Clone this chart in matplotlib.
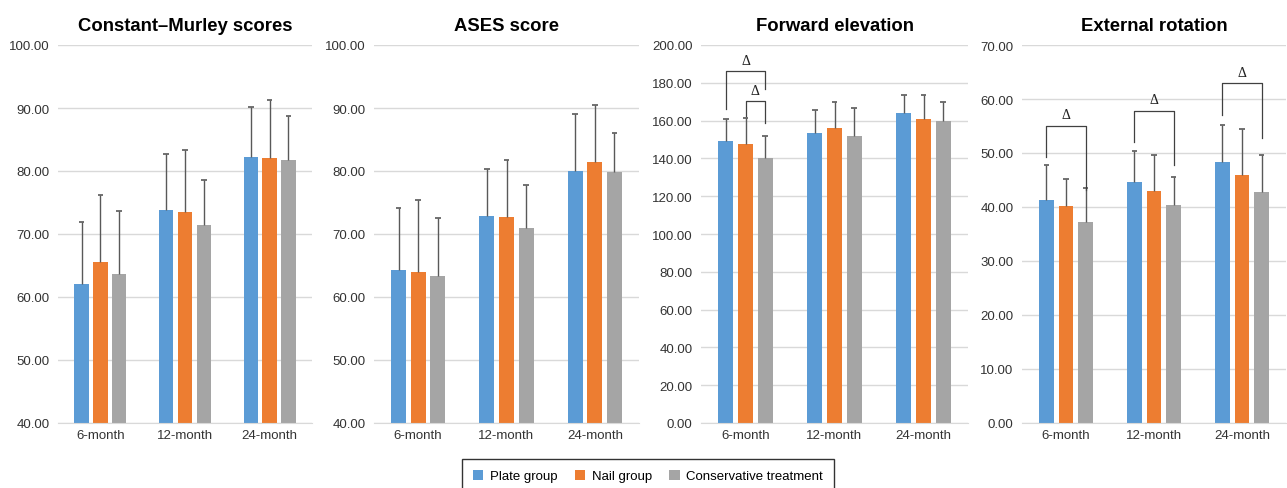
import matplotlib
matplotlib.use("Agg")
import matplotlib.pyplot as plt
import numpy as np

plt.rcParams['font.family'] = ['Liberation Sans', 'DejaVu Sans']

categories = ["6-month", "12-month", "24-month"]
series_names = ["Plate group", "Nail group", "Conservative treatment"]
colors = ["#5B9BD5", "#ED7D31", "#A5A5A5"]

titles = ["Constant\u2013Murley scores", "ASES score", "Forward elevation", "External rotation"]

# means per panel: [plate, nail, conservative] x categories
cm_mean = [[62.1, 73.8, 82.2], [65.5, 73.5, 82.0], [63.6, 71.5, 81.8]]
cm_top = [[71.9, 82.7, 90.1], [76.2, 83.4, 91.2], [73.7, 78.5, 88.7]]
ases_mean = [[64.3, 72.8, 80.0], [64.0, 72.7, 81.5], [63.4, 71.0, 79.9]]
ases_top = [[74.1, 80.3, 89.1], [75.4, 81.7, 90.4], [72.6, 77.8, 86.0]]
fe_mean = [[149.0, 153.6, 164.2], [147.7, 155.9, 160.8], [140.3, 152.0, 159.8]]
fe_top = [[160.6, 165.8, 173.5], [161.5, 169.6, 173.5], [151.6, 166.8, 170.0]]
er_mean = [[41.3, 44.7, 48.3], [40.2, 42.9, 45.9], [37.3, 40.4, 42.7]]
er_top = [[47.8, 50.4, 55.2], [45.2, 49.7, 54.4], [43.5, 45.6, 49.7]]

means = [cm_mean, ases_mean, fe_mean, er_mean]
tops = [cm_top, ases_top, fe_top, er_top]
ylims = [(40, 100), (40, 100), (0, 200), (0, 70)]
ysteps = [10, 10, 20, 10]

# significance brackets: (panel, category, series_a, series_b, top_y, leg_a_y, leg_b_y)
brackets = [
    (2, 0, 0, 2, 186.1, 166.1, 176.7),
    (2, 0, 1, 2, 170.2, 162.6, 158.7),
    (3, 0, 0, 2, 55.05, 49.3, 43.2),
    (3, 1, 0, 2, 57.8, 52.1, 47.8),
    (3, 2, 0, 2, 62.9, 57.1, 52.7),
]

W, H = 1287, 489
fig = plt.figure(figsize=(W / 100, H / 100), dpi=100)
axes_px = [(58, 312), (374, 639), (701, 968), (1022, 1286)]
top_px, bot_px = 46, 424

bw = 0.17
step = 0.222
capw = 0.065
x = np.arange(len(categories))
axes = []
for i, (l, r) in enumerate(axes_px):
    ax = fig.add_axes([l / W, (H - bot_px) / H, (r - l) / W, (bot_px - top_px) / H])
    axes.append(ax)
    lo, hi = ylims[i]
    for s in range(3):
        m = np.array(means[i][s])
        t = np.array(tops[i][s])
        xs = x + (s - 1) * step
        ax.bar(xs, m - lo, bottom=lo, width=bw, color=colors[s],
               label=series_names[s], zorder=2)
        ax.vlines(xs, m, t, color='#595959', linewidth=1.0, zorder=3)
        ax.hlines(t, xs - capw / 2, xs + capw / 2, color='#595959',
                  linewidth=1.2, zorder=3)
    ax.set_xlim(-0.5, 2.5)
    ax.set_ylim(lo, hi)
    ax.set_yticks(np.arange(lo, hi + 0.1, ysteps[i]))
    ax.yaxis.set_major_formatter(matplotlib.ticker.FormatStrFormatter('%.2f'))
    ax.set_xticks(x)
    ax.set_xticklabels(categories)
    ax.tick_params(axis='both', length=0, labelsize=9.5, colors='#333333', pad=6)
    ax.tick_params(axis='x', pad=4)
    ax.grid(axis='y', color='#D9D9D9', linewidth=1.0, zorder=0)
    ax.set_axisbelow(True)
    for sp in ['top', 'right', 'left']:
        ax.spines[sp].set_visible(False)
    ax.spines['bottom'].set_color('#D9D9D9')
    ax.set_title(titles[i], fontsize=13.3, fontweight='bold', pad=11)

for (p, c, sa, sb, ty, ya, yb) in brackets:
    ax = axes[p]
    xa = c + (sa - 1) * step
    xb = c + (sb - 1) * step
    ax.plot([xa, xa, xb, xb], [ya, ty, ty, yb], color='#404040', linewidth=0.9, zorder=4,
            clip_on=False)
    rng = ylims[p][1] - ylims[p][0]
    ax.text((xa + xb) / 2, ty + rng * 0.012, "\u0394", ha='center', va='bottom',
            fontsize=10, family=['Liberation Serif', 'DejaVu Serif'], color='#202020')

handles, labels = axes[0].get_legend_handles_labels()
leg = fig.legend(handles, labels, loc='lower center', bbox_to_anchor=(648 / W, -0.025),
                 ncol=3, frameon=True, fontsize=9.5, handlelength=0.8, handleheight=0.8,
                 handletextpad=0.5, columnspacing=1.3, fancybox=False, borderpad=0.85)
leg.get_frame().set_edgecolor('black')
leg.get_frame().set_linewidth(1.0)

fig.savefig("out.png", dpi=100)
